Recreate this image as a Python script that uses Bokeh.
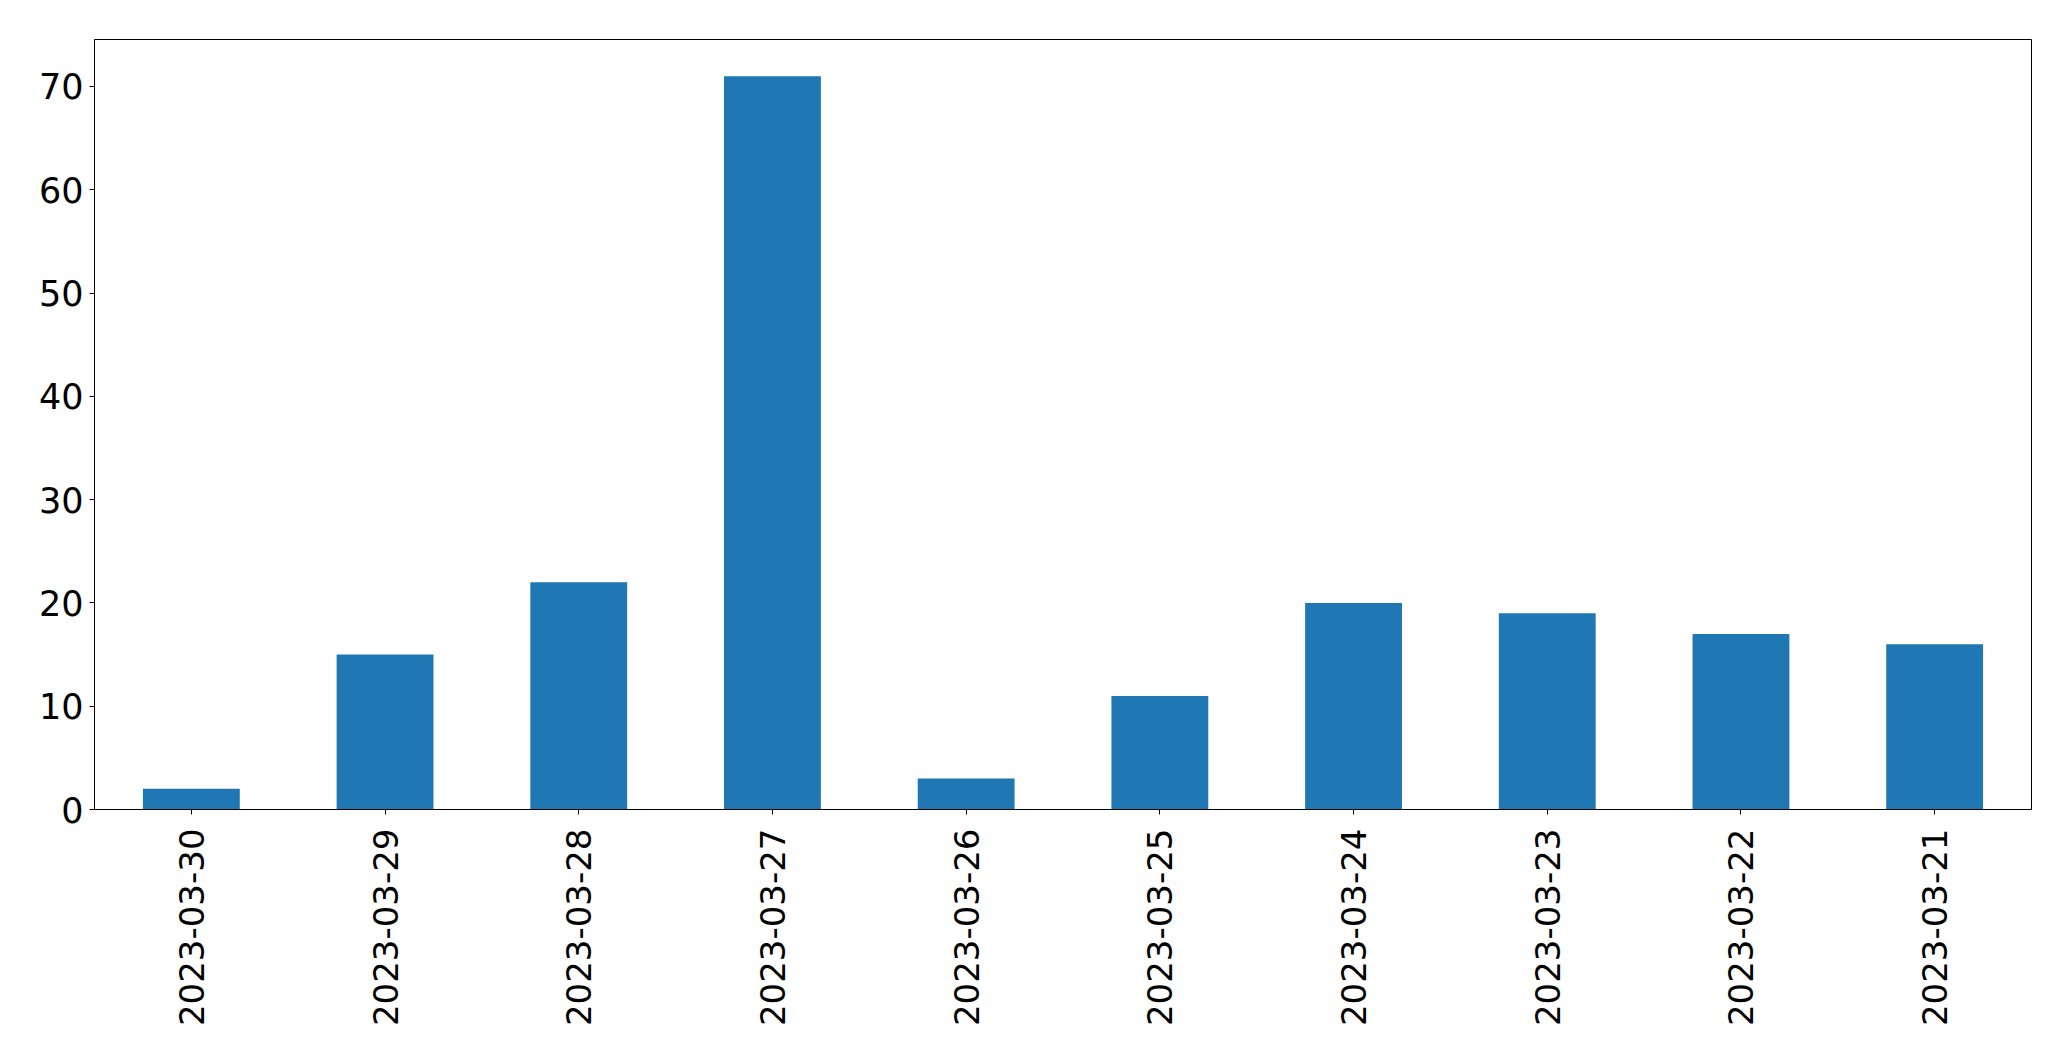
import math
from bokeh.plotting import figure
from bokeh.models import Range1d, FactorRange, FixedTicker, ColumnDataSource
from bokeh.embed import file_html
from bokeh.resources import INLINE

dates = ["2023-03-30", "2023-03-29", "2023-03-28", "2023-03-27", "2023-03-26",
         "2023-03-25", "2023-03-24", "2023-03-23", "2023-03-22", "2023-03-21"]
counts = [2, 15, 22, 71, 3, 11, 20, 19, 17, 16]
y_ticks = [0, 10, 20, 30, 40, 50, 60, 70]

src = ColumnDataSource(dict(date=dates, count=counts))

p = figure(width=2055, height=1045, output_backend="svg", toolbar_location=None,
           x_range=FactorRange(factors=dates, range_padding=0),
           y_range=Range1d(0, max(counts) * 1.05),
           min_border_left=94, min_border_right=24, min_border_top=39, min_border_bottom=236)

p.vbar(x="date", top="count", width=0.5, source=src, color="#1f77b4", line_color=None)

p.xgrid.visible = False
p.ygrid.visible = False
p.outline_line_color = "black"
p.outline_line_width = 1
p.outline_line_alpha = 1

for ax in (p.xaxis[0], p.yaxis[0]):
    ax.axis_line_color = "black"
    ax.major_tick_line_color = "black"
    ax.major_tick_out = 5
    ax.major_tick_in = 0
    ax.minor_tick_line_color = None
    ax.major_label_text_font = "DejaVu Sans"
    ax.major_label_text_font_size = "35px"
    ax.major_label_text_color = "black"

p.yaxis[0].ticker = FixedTicker(ticks=y_ticks)
p.yaxis[0].major_label_standoff = 6
p.xaxis[0].major_label_orientation = math.pi / 2
p.xaxis[0].major_label_text_font_size = "34px"
p.xaxis[0].major_label_standoff = 14
p.xaxis[0].group_text_font_size = "0px"

open("out.html", "w").write(file_html(p, INLINE))
